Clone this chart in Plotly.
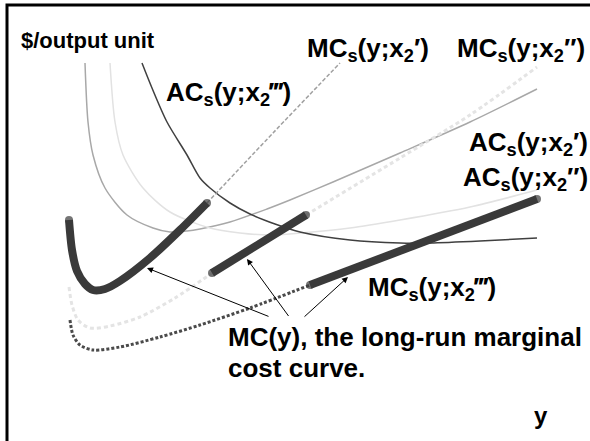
import plotly.graph_objects as go

# ---- diagram data (horizontal = output y, vertical = $/output unit; screen-like units) ----
# Short-run average cost curves
ac3_x = [142, 152, 167, 187, 200, 210, 230, 250, 275, 300, 350, 400, 430, 480, 537]
ac3_y = [63, 88, 122, 155, 178, 188, 203, 214, 224, 232, 240, 243, 243, 241, 238]
ac1_x = [85, 88, 93, 105, 127, 153, 170, 187, 200, 230, 267, 290, 333, 400, 470, 537]
ac1_y = [63, 122, 155, 188, 215, 228, 232, 231, 229, 222, 209, 200, 182, 153, 122, 89]
ac2_x = [110, 115, 123, 143, 170, 210, 240, 270, 300, 350, 400, 470, 537]
ac2_y = [63, 122, 155, 188, 212, 228, 233, 235, 233, 228, 220, 207, 190]

# Short-run marginal cost curves: thick part is long-run MC
mc1_thick_x = [69, 72, 77, 85, 93, 105, 120, 150, 180, 207]
mc1_thick_y = [220, 250, 271, 284, 290, 289, 281, 258, 230, 203]
mc1_dash_x = [207, 273, 340]
mc1_dash_y = [203, 133, 63]

mc2_low_x = [69, 72, 78, 90, 110, 140, 175, 212]
mc2_low_y = [287, 305, 320, 328, 326, 317, 298, 273]
mc2_thick_x = [212, 306]
mc2_thick_y = [273, 215]
mc2_up_x = [306, 400, 470, 537]
mc2_up_y = [215, 158, 115, 67]

mc3_low_x = [70, 73, 80, 93, 120, 160, 200, 250, 310]
mc3_low_y = [320, 335, 345, 350, 347, 337, 325, 308, 285]
mc3_thick_x = [310, 537]
mc3_thick_y = [285, 199]

# frame of the diagram: top edge and vertical axis
frame_x = [590, 7, 7]
frame_y = [5, 5, 441]

# arrows from the caption to the thick segments
arrow_tail_x = [270, 290, 303]
arrow_tail_y = [317, 318, 318]
arrow_head_x = [147, 247, 348]
arrow_head_y = [268, 259, 277]

FONT = "Liberation Sans, Arial, sans-serif"
DARK = "#3a3a3a"

fig = go.Figure()


def curve(x, y, color, width, dash="solid", shape="spline"):
    fig.add_trace(go.Scatter(x=x, y=y, mode="lines",
                             line=dict(color=color, width=width, dash=dash, shape=shape,
                                       smoothing=0.8),
                             hoverinfo="skip", showlegend=False))


def thick(x, y):
    sizes = [8] + [0] * (len(x) - 2) + [8]
    fig.add_trace(go.Scatter(x=x, y=y, mode="lines+markers",
                             line=dict(color=DARK, width=8, shape="spline", smoothing=0.8),
                             marker=dict(size=sizes, color=DARK, line=dict(width=0)),
                             hoverinfo="skip", showlegend=False))


curve(ac1_x, ac1_y, "#a8a8a8", 1.5)
curve(ac2_x, ac2_y, "#e2e2e2", 1.5)
curve(ac3_x, ac3_y, "#404040", 1.5)
curve(mc1_dash_x, mc1_dash_y, "#a0a0a0", 1.5, dash="4px,2px")
curve(mc2_low_x, mc2_low_y, "#e4e4e4", 3, dash="4px,3px")
curve(mc2_up_x, mc2_up_y, "#e4e4e4", 3, dash="4px,3px")
curve(mc3_low_x, mc3_low_y, "#4a4a4a", 3, dash="3px,2px")
thick(mc1_thick_x, mc1_thick_y)
thick(mc2_thick_x, mc2_thick_y)
thick(mc3_thick_x, mc3_thick_y)
curve(frame_x, frame_y, "#000000", 3, shape="linear")

ann = []
for tx, ty, hx, hy in zip(arrow_tail_x, arrow_tail_y, arrow_head_x, arrow_head_y):
    ann.append(dict(x=hx, y=hy, ax=tx, ay=ty, xref="x", yref="y", axref="x", ayref="y",
                    showarrow=True, arrowhead=2, arrowsize=1.2, arrowwidth=1,
                    arrowcolor="#000000", text=" ", font=dict(size=1)))


def label(text, x, y, size, xanchor="left"):
    ann.append(dict(x=x, y=y, xref="x", yref="y", text=text, showarrow=False,
                    xanchor=xanchor, yanchor="middle", align="left",
                    font=dict(family=FONT, size=size, color="#000000", weight="bold")))


label("$/output unit", 19, 40, 22)
label("AC<sub>s</sub>(y;x<sub>2</sub>‴)", 164, 93, 26)
label("MC<sub>s</sub>(y;x<sub>2</sub>′)", 305, 49, 26)
label("MC<sub>s</sub>(y;x<sub>2</sub>″)", 455, 49, 26)
label("AC<sub>s</sub>(y;x<sub>2</sub>′)", 590, 143, 26, xanchor="right")
label("AC<sub>s</sub>(y;x<sub>2</sub>″)", 590, 178, 26, xanchor="right")
label("MC<sub>s</sub>(y;x<sub>2</sub>‴)", 366, 288, 26)
label("MC(y), the long-run marginal", 226, 337, 26)
label("cost curve.", 226, 368, 26)
label("y", 541, 415, 24, xanchor="center")

fig.update_layout(
    width=590, height=441,
    margin=dict(l=0, r=0, t=0, b=0, pad=0),
    paper_bgcolor="white", plot_bgcolor="white",
    xaxis=dict(range=[0, 590], visible=False, fixedrange=True),
    yaxis=dict(range=[441, 0], visible=False, fixedrange=True),
    annotations=ann,
)

fig.write_html("out.html", config={"displayModeBar": False},
               post_script="document.body.style.margin='0';document.body.style.overflow='hidden';")
